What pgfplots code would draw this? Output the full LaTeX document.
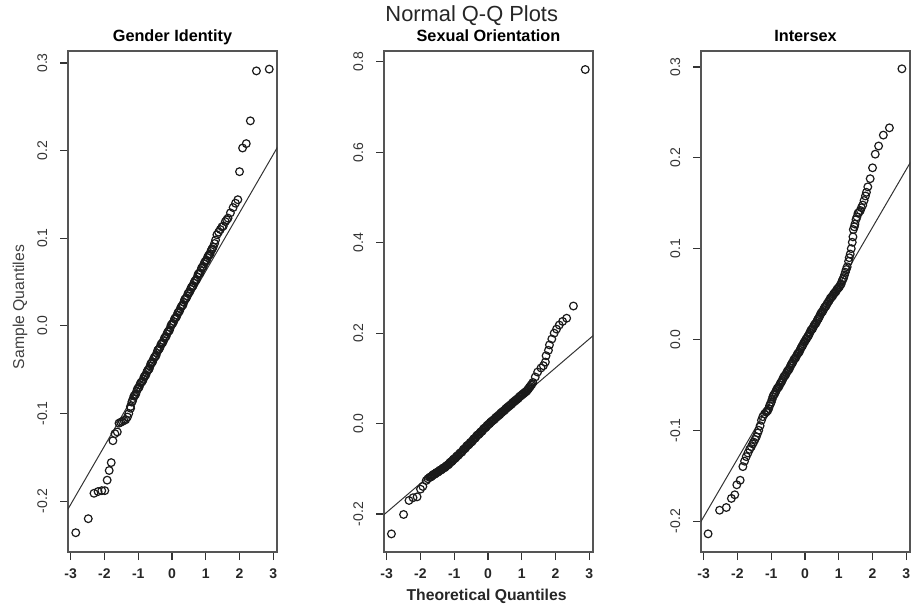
\documentclass[border=0pt]{standalone}
\usepackage{fontspec}
\setmainfont{Liberation Sans}
\usepackage{pgfplots}
\pgfplotsset{compat=1.18}

\definecolor{ptcol}{HTML}{1A1A1A}
\definecolor{framecol}{HTML}{555555}
\definecolor{linecol}{HTML}{333333}

\pgfplotsset{
  qq/.style={
    scale only axis, width=156.75pt, height=375.75pt,
    xmin=-3.08, xmax=3.11,
    xtick={-3,-2,-1,0,1,2,3}, xticklabels={-3,-2,-1,0,1,2,3},
    xtick pos=bottom, ytick pos=left,
    tick align=outside, major tick length=6pt,
    axis line style={draw=framecol, line width=1pt},
    tick style={draw=black!80, line width=0.8pt},
    xticklabel style={font=\bfseries\fontsize{10.5}{12}\selectfont, text=black!85},
    yticklabel style={font=\fontsize{10.5}{12}\selectfont, rotate=90, anchor=south, text=black!80},
    xticklabel shift=3pt, yticklabel shift=6pt,
    title style={font=\bfseries\fontsize{12.2}{14}\selectfont, anchor=base, at={(0.5,1)}, yshift=1pt},
  },
  pts/.style={only marks, mark=o, mark size=2.9pt, mark options={draw=ptcol, line width=0.9pt}},
  refline/.style={draw=linecol, line width=0.75pt, no marks},
}

\begin{document}
\begin{tikzpicture}
\useasboundingbox (0,0) rectangle (685.5pt,-453.75pt);

% Gender Identity
\begin{axis}[qq, at={(51pt,-414pt)}, anchor=south west,
  title={Gender Identity},
  ymin=-0.258, ymax=0.3137,
  ytick={-0.2,-0.1,0,0.1,0.2,0.3}, yticklabels={-0.2,-0.1,0.0,0.1,0.2,0.3}]
\addplot[refline] coordinates {(-3.2,-0.217) (3.2,0.209)};
\addplot[pts] coordinates {
(-2.85,-0.236) (-2.48,-0.220) (-2.31,-0.191) (-2.19,-0.189) (-2.08,-0.188)
(-1.99,-0.188) (-1.92,-0.176) (-1.86,-0.165) (-1.80,-0.156) (-1.75,-0.131)
(-1.69,-0.123) (-1.62,-0.121) (-1.57,-0.111) (-1.52,-0.110) (-1.47,-0.109)
(-1.42,-0.108) (-1.37,-0.107) (-1.32,-0.104) (-1.28,-0.100) (-1.23,-0.092)
(-1.19,-0.087) (-1.15,-0.083) (-1.10,-0.079) (-1.05,-0.075) (-1.00,-0.071)
(-0.95,-0.067) (-0.90,-0.064) (-0.85,-0.061) (-0.80,-0.057) (-0.75,-0.053)
(-0.70,-0.050) (-0.65,-0.046) (-0.60,-0.042) (-0.55,-0.038) (-0.50,-0.035)
(-0.45,-0.031) (-0.40,-0.027) (-0.35,-0.024) (-0.30,-0.020) (-0.25,-0.017)
(-0.20,-0.013) (-0.15,-0.009) (-0.10,-0.006) (-0.05,-0.002) (0.00,0.002)
(0.05,0.005) (0.10,0.009) (0.15,0.012) (0.20,0.016) (0.25,0.020)
(0.30,0.023) (0.35,0.027) (0.40,0.031) (0.45,0.034) (0.50,0.038)
(0.55,0.042) (0.60,0.045) (0.65,0.049) (0.70,0.052) (0.75,0.056)
(0.80,0.060) (0.85,0.063) (0.90,0.067) (0.95,0.071) (1.00,0.074)
(1.05,0.078) (1.10,0.081) (1.15,0.085) (1.19,0.088) (1.22,0.090)
(1.26,0.094) (1.29,0.098) (1.33,0.104) (1.38,0.107) (1.43,0.110)
(1.48,0.113) (1.52,0.114) (1.58,0.119) (1.62,0.121) (1.66,0.123)
(1.73,0.129) (1.81,0.135) (1.88,0.140) (1.95,0.144) (2.00,0.176)
(2.09,0.203) (2.20,0.208) (2.32,0.234) (2.50,0.291) (2.88,0.293)
(-1.225,-0.094) (-1.175,-0.086) (-1.125,-0.080) (-1.075,-0.078) (-1.025,-0.072)
(-0.975,-0.070) (-0.925,-0.065) (-0.875,-0.063) (-0.825,-0.058) (-0.775,-0.056)
(-0.725,-0.051) (-0.675,-0.049) (-0.625,-0.043) (-0.575,-0.041) (-0.525,-0.036)
(-0.475,-0.034) (-0.425,-0.028) (-0.375,-0.026) (-0.325,-0.021) (-0.275,-0.019)
(-0.225,-0.014) (-0.175,-0.012) (-0.125,-0.007) (-0.075,-0.005) (-0.025,0.001)
(0.025,0.003) (0.075,0.008) (0.125,0.010) (0.175,0.015) (0.225,0.017)
(0.275,0.022) (0.325,0.024) (0.375,0.030) (0.425,0.032) (0.475,0.037)
(0.525,0.039) (0.575,0.044) (0.625,0.046) (0.675,0.051) (0.725,0.053)
(0.775,0.059) (0.825,0.060) (0.875,0.066) (0.925,0.068) (0.975,0.073)
(1.025,0.075) (1.075,0.080) (1.125,0.082) (1.175,0.087)
};
\end{axis}

% Sexual Orientation
\begin{axis}[qq, at={(288pt,-414pt)}, anchor=south west,
  title={Sexual Orientation},
  ymin=-0.284, ymax=0.824,
  ytick={-0.2,0,0.2,0.4,0.6,0.8}, yticklabels={-0.2,0.0,0.2,0.4,0.6,0.8}]
\addplot[refline] coordinates {(-3.2,-0.209) (3.2,0.200)};
\addplot[pts] coordinates {
(-2.86,-0.244) (-2.50,-0.201) (-2.34,-0.170) (-2.22,-0.164) (-2.10,-0.162)
(-2.00,-0.145) (-1.93,-0.139) (-1.83,-0.126) (-1.78,-0.122) (-1.73,-0.119)
(-1.70,-0.118) (-1.65,-0.115) (-1.60,-0.112) (-1.55,-0.110) (-1.50,-0.108)
(-1.45,-0.105) (-1.40,-0.103) (-1.35,-0.100) (-1.30,-0.098) (-1.25,-0.095)
(-1.20,-0.092) (-1.15,-0.089) (-1.10,-0.085) (-1.05,-0.082) (-1.00,-0.078)
(-0.95,-0.075) (-0.90,-0.071) (-0.85,-0.067) (-0.80,-0.064) (-0.75,-0.060)
(-0.70,-0.056) (-0.65,-0.052) (-0.60,-0.048) (-0.55,-0.045) (-0.50,-0.041)
(-0.45,-0.037) (-0.40,-0.033) (-0.35,-0.029) (-0.30,-0.025) (-0.25,-0.022)
(-0.20,-0.018) (-0.15,-0.014) (-0.10,-0.010) (-0.05,-0.007) (0.00,-0.003)
(0.05,0.000) (0.10,0.004) (0.15,0.007) (0.20,0.010) (0.25,0.014)
(0.30,0.017) (0.35,0.020) (0.40,0.024) (0.45,0.027) (0.50,0.030)
(0.55,0.034) (0.60,0.037) (0.65,0.040) (0.70,0.043) (0.75,0.047)
(0.80,0.050) (0.85,0.053) (0.90,0.056) (0.95,0.060) (1.00,0.063)
(1.05,0.066) (1.10,0.069) (1.15,0.072) (1.20,0.077) (1.25,0.082)
(1.30,0.087) (1.33,0.091) (1.40,0.103) (1.47,0.114) (1.57,0.123)
(1.64,0.128) (1.70,0.136) (1.72,0.150) (1.79,0.162) (1.82,0.174)
(1.89,0.187) (1.96,0.200) (2.03,0.209) (2.11,0.218) (2.21,0.226)
(2.33,0.233) (2.53,0.260) (2.88,0.783)
(-1.675,-0.117) (-1.625,-0.113) (-1.575,-0.112) (-1.525,-0.108) (-1.475,-0.107)
(-1.425,-0.103) (-1.375,-0.102) (-1.325,-0.098) (-1.275,-0.097) (-1.225,-0.093)
(-1.175,-0.091) (-1.125,-0.086) (-1.075,-0.084) (-1.025,-0.079) (-0.975,-0.077)
(-0.925,-0.072) (-0.875,-0.070) (-0.825,-0.065) (-0.775,-0.063) (-0.725,-0.057)
(-0.675,-0.055) (-0.625,-0.049) (-0.575,-0.047) (-0.525,-0.042) (-0.475,-0.040)
(-0.425,-0.034) (-0.375,-0.032) (-0.325,-0.026) (-0.275,-0.024) (-0.225,-0.019)
(-0.175,-0.017) (-0.125,-0.011) (-0.075,-0.009) (-0.025,-0.004) (0.025,-0.001)
(0.075,0.003) (0.125,0.006) (0.175,0.009) (0.225,0.013) (0.275,0.016)
(0.325,0.019) (0.375,0.023) (0.425,0.026) (0.475,0.029) (0.525,0.033)
(0.575,0.036) (0.625,0.039) (0.675,0.042) (0.725,0.046) (0.775,0.049)
(0.825,0.052) (0.875,0.055) (0.925,0.059) (0.975,0.062) (1.025,0.065)
(1.075,0.068) (1.125,0.071) (1.175,0.075) (1.225,0.080) (1.275,0.085)
};
\end{axis}

% Intersex
\begin{axis}[qq, at={(525.75pt,-414pt)}, anchor=south west,
  title={Intersex},
  ymin=-0.234, ymax=0.3176,
  ytick={-0.2,-0.1,0,0.1,0.2,0.3}, yticklabels={-0.2,-0.1,0.0,0.1,0.2,0.3}]
\addplot[refline] coordinates {(-3.2,-0.208) (3.2,0.200)};
\addplot[pts] coordinates {
(-2.87,-0.214) (-2.53,-0.188) (-2.33,-0.185) (-2.18,-0.175) (-2.08,-0.171)
(-2.02,-0.160) (-1.92,-0.155) (-1.84,-0.140) (-1.79,-0.134) (-1.74,-0.129)
(-1.69,-0.125) (-1.64,-0.121) (-1.59,-0.118) (-1.55,-0.115) (-1.52,-0.113)
(-1.48,-0.110) (-1.44,-0.107) (-1.40,-0.103) (-1.37,-0.100) (-1.33,-0.095)
(-1.29,-0.089) (-1.25,-0.085) (-1.20,-0.082) (-1.15,-0.080) (-1.10,-0.078)
(-1.05,-0.073) (-1.00,-0.069) (-0.95,-0.063) (-0.90,-0.060) (-0.85,-0.056)
(-0.80,-0.053) (-0.75,-0.050) (-0.70,-0.047) (-0.65,-0.043) (-0.60,-0.040)
(-0.55,-0.037) (-0.50,-0.034) (-0.45,-0.031) (-0.40,-0.027) (-0.35,-0.024)
(-0.30,-0.021) (-0.25,-0.018) (-0.20,-0.015) (-0.15,-0.012) (-0.10,-0.008)
(-0.05,-0.005) (0.00,-0.002) (0.05,0.001) (0.10,0.004) (0.15,0.008)
(0.20,0.011) (0.25,0.014) (0.30,0.017) (0.35,0.020) (0.40,0.023)
(0.45,0.027) (0.50,0.030) (0.55,0.033) (0.60,0.036) (0.65,0.039)
(0.72,0.043) (0.77,0.046) (0.82,0.048) (0.87,0.051) (0.92,0.053)
(0.97,0.056) (1.02,0.058) (1.07,0.061) (1.12,0.066) (1.17,0.071)
(1.22,0.077) (1.25,0.080) (1.29,0.086) (1.31,0.090) (1.34,0.094)
(1.37,0.100) (1.40,0.107) (1.42,0.113) (1.43,0.121) (1.46,0.124)
(1.48,0.127) (1.51,0.132) (1.54,0.135) (1.57,0.139) (1.60,0.140)
(1.64,0.142) (1.67,0.145) (1.71,0.148) (1.75,0.153) (1.79,0.158)
(1.82,0.162) (1.86,0.168) (1.93,0.177) (2.00,0.189) (2.08,0.204)
(2.18,0.213) (2.32,0.225) (2.50,0.233) (2.87,0.298)
(-1.125,-0.079) (-1.075,-0.076) (-1.025,-0.071) (-0.975,-0.066) (-0.925,-0.061)
(-0.875,-0.058) (-0.825,-0.054) (-0.775,-0.052) (-0.725,-0.048) (-0.675,-0.045)
(-0.625,-0.041) (-0.575,-0.039) (-0.525,-0.035) (-0.475,-0.033) (-0.425,-0.029)
(-0.375,-0.026) (-0.325,-0.022) (-0.275,-0.020) (-0.225,-0.016) (-0.175,-0.014)
(-0.125,-0.010) (-0.075,-0.007) (-0.025,-0.003) (0.025,0.000) (0.075,0.003)
(0.125,0.006) (0.175,0.010) (0.225,0.012) (0.275,0.016) (0.325,0.018)
(0.375,0.022) (0.425,0.025) (0.475,0.029) (0.525,0.031) (0.575,0.035)
(0.625,0.037) (0.685,0.041) (0.745,0.045) (0.795,0.047) (0.845,0.050)
(0.895,0.052) (0.945,0.055) (0.995,0.057) (1.045,0.060) (1.095,0.064)
(1.145,0.068) (1.195,0.074)
};
\end{axis}

\node[anchor=base, font=\fontsize{16.4}{19}\selectfont, text=black!85] at (353.8pt,-16.5pt) {Normal Q-Q Plots};
\node[anchor=base, rotate=90, font=\fontsize{11.8}{14}\selectfont, text=black!75] at (18pt,-230.25pt) {Sample Quantiles};
\node[anchor=base, font=\bfseries\fontsize{11.8}{14}\selectfont, text=black!85] at (364.9pt,-450pt) {Theoretical Quantiles};
\end{tikzpicture}
\end{document}
